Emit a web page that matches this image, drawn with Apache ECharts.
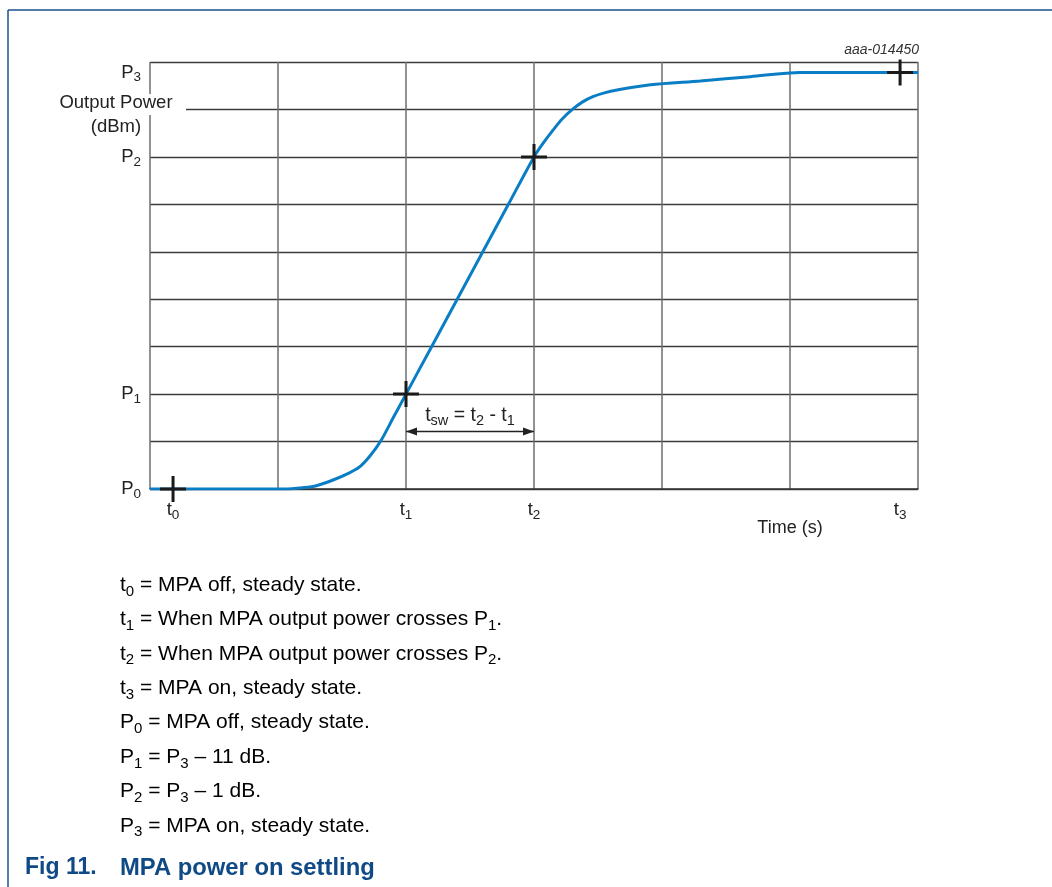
<!DOCTYPE html>
<html>
<head>
<meta charset="utf-8">
<script src="https://cdn.jsdelivr.net/npm/echarts@6/dist/echarts.min.js"></script>
<style>
html,body{margin:0;padding:0;background:#fff;}
#chart{width:1052px;height:887px;}
</style>
</head>
<body>
<div id="chart"></div>
<script>
// Curve (x in grid columns, y in grid rows)
const timeX  = [0, 1.05, 1.20, 1.30, 1.43, 1.55, 1.64, 1.72, 1.80, 1.90, 2.00, 2.20, 2.40, 2.60, 2.80, 3.00, 3.08, 3.15, 3.22, 3.30, 3.38, 3.46, 3.55, 3.65, 3.91, 4.30, 4.69, 5.08, 6.00];
const powerY = [0, 0.00, 0.03, 0.07, 0.19, 0.33, 0.47, 0.70, 1.00, 1.50, 2.00, 3.00, 4.00, 5.00, 6.00, 7.00, 7.32, 7.57, 7.80, 8.00, 8.16, 8.27, 8.35, 8.41, 8.52, 8.60, 8.69, 8.78, 8.78];
// Marked points t0..t3 / P0..P3
const markerX = [0.18, 2, 3, 5.86];
const markerY = [0, 2, 7, 8.78];
// Tick labels
const xTickVals = [0.18, 2, 3, 5.86];
const xTickSubs = ['0', '1', '2', '3'];
const yTickVals = [0, 2, 7, 8.78];
const yTickSubs = ['0', '1', '2', '3'];
// tsw arrow
const arrowX = [2, 3];
const arrowY = 1.21;
// Notes
const notes = [
  ['t', '0', ' = MPA off, steady state.'],
  ['t', '1', ' = When MPA output power crosses P', '1', '.'],
  ['t', '2', ' = When MPA output power crosses P', '2', '.'],
  ['t', '3', ' = MPA on, steady state.'],
  ['P', '0', ' = MPA off, steady state.'],
  ['P', '1', ' = P', '3', ' \u2013 11 dB.'],
  ['P', '2', ' = P', '3', ' \u2013 1 dB.'],
  ['P', '3', ' = MPA on, steady state.']
];

const FONT = "'Liberation Sans', Arial, Helvetica, sans-serif";
const richSub = {
  m: {fontSize: 18.5, fontFamily: FONT, color: '#222', lineHeight: 24, verticalAlign: 'middle'},
  s: {fontSize: 13.5, fontFamily: FONT, color: '#222', lineHeight: 13, verticalAlign: 'bottom'}
};
const richNote = {
  m: {fontSize: 21, fontFamily: FONT, color: '#222', lineHeight: 28, verticalAlign: 'middle'},
  s: {fontSize: 15, fontFamily: FONT, color: '#222', lineHeight: 15, verticalAlign: 'bottom'}
};
const richTsw = {
  m: {fontSize: 19.5, fontFamily: FONT, color: '#222', lineHeight: 25, verticalAlign: 'middle'},
  s: {fontSize: 14.5, fontFamily: FONT, color: '#222', lineHeight: 14, verticalAlign: 'bottom'}
};
function findIdx(vals, v) {
  for (let i = 0; i < vals.length; i++) if (Math.abs(vals[i] - v) < 1e-6) return i;
  return -1;
}
function noteRich(parts) {
  let s = '';
  parts.forEach((p, i) => { s += (i % 2 === 0 ? '{m|' : '{s|') + p + '}'; });
  return s;
}

const chart = echarts.init(document.getElementById('chart'), null, {renderer: 'canvas'});

const graphics = [
  {type: 'line', z: 100, shape: {x1: 8, y1: 10, x2: 1052, y2: 10}, style: {stroke: '#1d4f8b', lineWidth: 1.5}},
  {type: 'line', z: 100, shape: {x1: 8, y1: 10, x2: 8, y2: 887}, style: {stroke: '#1d4f8b', lineWidth: 1.5}},
  {type: 'rect', z: 100, shape: {x: 55, y: 94, width: 131, height: 21}, style: {fill: '#fff'}},
  {type: 'text', z: 101, style: {text: 'Output Power', x: 116, y: 103, textAlign: 'center', textVerticalAlign: 'middle', font: '18.5px ' + FONT, fill: '#222'}},
  {type: 'text', z: 101, style: {text: '(dBm)', x: 116, y: 127, textAlign: 'center', textVerticalAlign: 'middle', font: '18.5px ' + FONT, fill: '#222'}},
  {type: 'text', z: 101, style: {text: 'Time (s)', x: 790, y: 528, textAlign: 'center', textVerticalAlign: 'middle', font: '18px ' + FONT, fill: '#222'}},
  {type: 'text', z: 101, style: {text: 'aaa-014450', x: 919, y: 50, textAlign: 'right', textVerticalAlign: 'middle', font: 'italic 14px ' + FONT, fill: '#333'}},
  {type: 'text', z: 101, style: {text: 'Fig 11.', x: 25, y: 868, textAlign: 'left', textVerticalAlign: 'middle', font: 'bold 23px ' + FONT, fill: '#0f4a86'}},
  {type: 'text', z: 101, style: {text: 'MPA power on settling', x: 120, y: 868, textAlign: 'left', textVerticalAlign: 'middle', font: 'bold 23.8px ' + FONT, fill: '#0f4a86'}}
];
notes.forEach((parts, i) => {
  graphics.push({type: 'text', z: 101, x: 120, y: 585 + i * 34.4, style: {text: noteRich(parts), rich: richNote, textAlign: 'left', textVerticalAlign: 'middle'}});
});

const option = {
  animation: false,
  backgroundColor: '#fff',
  grid: {left: 150, top: 62, width: 768, height: 427, containLabel: false},
  xAxis: {
    type: 'value', min: 0, max: 6, interval: 1,
    axisLine: {show: true, onZero: false, lineStyle: {color: '#333', width: 1.5}},
    axisTick: {show: false},
    splitLine: {show: true, lineStyle: {color: '#6e6e6e', width: 1.5}},
    axisLabel: {
      customValues: xTickVals, margin: 9, showMinLabel: true, showMaxLabel: true,
      formatter: v => { const i = findIdx(xTickVals, v); return i < 0 ? '' : '{m|t}{s|' + xTickSubs[i] + '}'; },
      rich: richSub
    }
  },
  yAxis: {
    type: 'value', min: 0, max: 9, interval: 1,
    axisLine: {show: false},
    axisTick: {show: false},
    splitLine: {show: true, lineStyle: {color: '#3c3c3c', width: 1.3}},
    axisLabel: {
      customValues: yTickVals, margin: 9, showMinLabel: true, showMaxLabel: true,
      formatter: v => { const i = findIdx(yTickVals, v); return i < 0 ? '' : '{m|P}{s|' + yTickSubs[i] + '}'; },
      rich: richSub
    }
  },
  series: [
    {
      type: 'line', smooth: 0.3, showSymbol: false, z: 3,
      data: timeX.map((x, i) => [x, powerY[i]]),
      lineStyle: {color: '#0a7ec4', width: 3},
      markLine: {
        silent: true, symbol: ['triangle', 'triangle'], symbolSize: [8, 11],
        symbolOffset: [[0, 5.5], [0, 5.5]],
        lineStyle: {color: '#222', width: 1.3, type: 'solid'},
        label: {show: true, position: 'middle', distance: 3, formatter: '{m|t}{s|sw}{m| = t}{s|2}{m| - t}{s|1}', rich: richTsw},
        data: [[{coord: [arrowX[0], arrowY]}, {coord: [arrowX[1], arrowY]}]]
      }
    },
    {
      type: 'scatter', z: 5,
      data: markerX.map((x, i) => [x, markerY[i]]),
      symbol: 'path://M0,11.5H26V14.5H0Z M11.5,0H14.5V26H11.5Z',
      symbolSize: 26,
      itemStyle: {color: '#1a1a1a', opacity: 1}
    }
  ],
  graphic: graphics
};
chart.setOption(option);
</script>
</body>
</html>
